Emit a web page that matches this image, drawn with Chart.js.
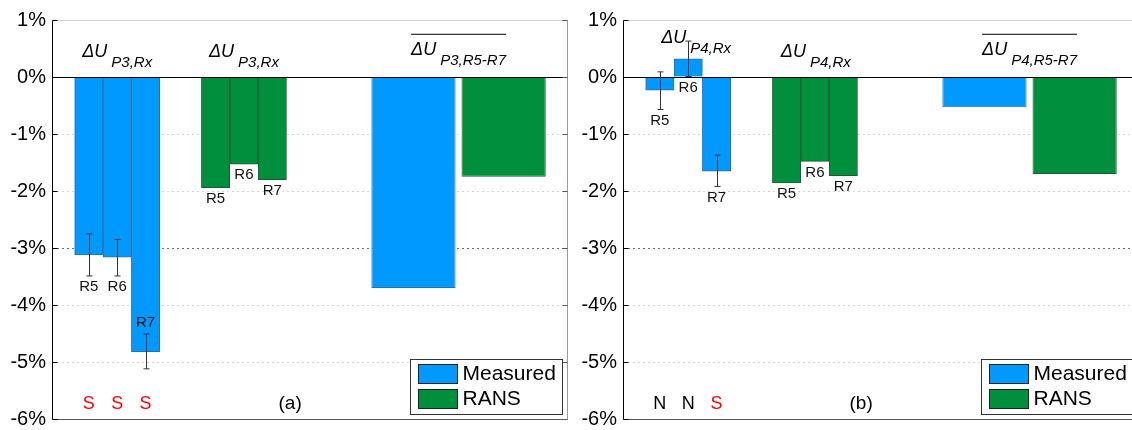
<!DOCTYPE html>
<html>
<head>
<meta charset="utf-8">
<script src="https://cdn.jsdelivr.net/npm/chart.js@4.4.0/dist/chart.umd.min.js"></script>
<style>
  html, body { margin: 0; padding: 0; background: #fff; overflow: hidden; }
  #wrap { position: relative; width: 1132px; height: 430px; overflow: hidden; }
  .panel { position: absolute; top: 0; width: 570px; height: 430px; }
  #panelA { left: 0; }
  #panelB { left: 571px; }
</style>
</head>
<body>
<div id="wrap">
  <div class="panel" id="panelA"><canvas id="chartA" width="570" height="430"></canvas></div>
  <div class="panel" id="panelB"><canvas id="chartB" width="570" height="430"></canvas></div>
</div>
<script>
const runs = ['R5', 'R6', 'R7'];
const seriesNames = ['Measured', 'RANS'];
const yMin = -6, yMax = 1;

// slots on the hidden x axis, counted in bar widths
const runSlots = [1.3, 2.3, 3.3];
const ransSlots = [5.77, 6.77, 7.77];
const avgSlots = [12.75, 15.93];

// probe P3
const measuredP3 = [-3.12, -3.16, -4.82];
const measuredP3Lo = [-3.49, -3.49, -5.12];
const measuredP3Hi = [-2.75, -2.85, -4.51];
const ransP3 = [-1.94, -1.53, -1.80];
const avgP3 = [-3.70, -1.75];
const flowP3 = ['S', 'S', 'S'];

// probe P4
const measuredP4 = [-0.23, 0.32, -1.65];
const measuredP4Lo = [-0.57, 0.01, -1.92];
const measuredP4Hi = [0.09, 0.63, -1.37];
const ransP4 = [-1.86, -1.48, -1.73];
const avgP4 = [-0.53, -1.70];
const flowP4 = ['N', 'N', 'S'];

const BLUE = '#0099ff';
const BLUE_EDGE = '#2f6f9f';
const GREEN = '#008f3c';
const GREEN_EDGE = '#1f5a32';
const FONT = "'Liberation Sans', Arial, sans-serif";

Chart.defaults.font.family = FONT;
Chart.defaults.color = '#000';

function drawSymbol(ctx, cx, baseY, sub, overline) {
  ctx.font = 'italic 18px ' + FONT;
  const w1 = ctx.measureText('\u0394U').width;
  ctx.font = 'italic 15px ' + FONT;
  const w2 = ctx.measureText(sub).width;
  const gap = 4;
  const x0 = cx - (w1 + gap + w2) / 2;
  ctx.fillStyle = '#000';
  ctx.textAlign = 'left';
  ctx.textBaseline = 'alphabetic';
  ctx.font = 'italic 18px ' + FONT;
  ctx.fillText('\u0394U', x0, baseY);
  ctx.font = 'italic 15px ' + FONT;
  ctx.fillText(sub, x0 + w1 + gap, baseY + 10);
  if (overline) {
    ctx.strokeStyle = '#000';
    ctx.lineWidth = 1;
    ctx.beginPath();
    ctx.moveTo(x0, baseY - 20.5);
    ctx.lineTo(x0 + w1 + gap + w2, baseY - 20.5);
    ctx.stroke();
  }
}

function makeDecor(p) {
  return {
    id: 'panelDecor',
    afterDatasetsDraw(chart) {
      const ctx = chart.ctx;
      const a = chart.chartArea;
      const x = chart.scales.x;
      const y = chart.scales.y;
      ctx.save();

      // zero line
      ctx.strokeStyle = '#000';
      ctx.lineWidth = 1;
      const y0 = Math.round(y.getPixelForValue(0)) + 0.5;
      ctx.beginPath();
      ctx.moveTo(a.left, y0);
      ctx.lineTo(a.right, y0);
      ctx.stroke();

      // error bars on the measured runs
      ctx.strokeStyle = '#333';
      runSlots.forEach((s, i) => {
        const px = Math.round(x.getPixelForValue(s)) + 0.5;
        const lo = y.getPixelForValue(p.lo[i]);
        const hi = y.getPixelForValue(p.hi[i]);
        ctx.beginPath();
        ctx.moveTo(px, lo); ctx.lineTo(px, hi);
        ctx.moveTo(px - 3, lo); ctx.lineTo(px + 3, lo);
        ctx.moveTo(px - 3, hi); ctx.lineTo(px + 3, hi);
        ctx.stroke();
      });

      // run labels
      ctx.font = '15px ' + FONT;
      ctx.fillStyle = '#111';
      ctx.textAlign = 'center';
      ctx.textBaseline = 'middle';
      runSlots.forEach((s, i) => {
        const px = x.getPixelForValue(s);
        const anchor = Math.min(0, p.measured[i], p.lo[i]);
        const py = anchor < -5 ? y.getPixelForValue(p.hi[i]) - 11 : y.getPixelForValue(anchor) + 11;
        ctx.fillText(runs[i], px, py);
      });
      ransSlots.forEach((s, i) => {
        const anchor = Math.min(0, p.rans[i]);
        ctx.fillText(runs[i], x.getPixelForValue(s), y.getPixelForValue(anchor) + 11);
      });

      // flow state letters and panel tag
      ctx.font = '18px ' + FONT;
      const rowY = y.getPixelForValue(-5.74);
      runSlots.forEach((s, i) => {
        ctx.fillStyle = p.flow[i] === 'S' ? '#ff0000' : '#000';
        ctx.fillText(p.flow[i], x.getPixelForValue(s), rowY);
      });
      ctx.fillStyle = '#000';
      ctx.font = '19px ' + FONT;
      ctx.fillText(p.tag, x.getPixelForValue(8.4), rowY);

      // group titles
      p.titles.forEach(t => {
        drawSymbol(ctx, x.getPixelForValue(t.at), y.getPixelForValue(t.level), t.sub, t.overline);
      });

      // frame
      const top = a.top + 0.5, bottom = a.bottom + 0.5;
      const left = a.left + 0.5, right = a.right - 0.5;
      ctx.lineWidth = 1;
      ctx.strokeStyle = '#cfcfcf';
      ctx.beginPath(); ctx.moveTo(left, top); ctx.lineTo(right, top); ctx.stroke();
      ctx.strokeStyle = '#9a9a9a';
      ctx.beginPath(); ctx.moveTo(right, top); ctx.lineTo(right, bottom); ctx.stroke();
      ctx.strokeStyle = '#555';
      ctx.beginPath(); ctx.moveTo(left, bottom); ctx.lineTo(right, bottom); ctx.stroke();
      ctx.strokeStyle = '#000';
      ctx.beginPath(); ctx.moveTo(left, top); ctx.lineTo(left, bottom); ctx.stroke();

      // inward tick marks on both sides
      y.ticks.forEach(t => {
        const ty = Math.round(y.getPixelForValue(t.value)) + 0.5;
        ctx.strokeStyle = '#000';
        ctx.beginPath(); ctx.moveTo(left, ty); ctx.lineTo(left + 5, ty); ctx.stroke();
        ctx.strokeStyle = '#555';
        ctx.beginPath(); ctx.moveTo(right, ty); ctx.lineTo(right - 5, ty); ctx.stroke();
      });

      // legend box in the lower right corner
      const bw = 152, bh = 55;
      const bx = Math.round(a.right - 6 - bw) + 0.5;
      const by = Math.round(a.bottom - 5 - bh) + 0.5;
      ctx.fillStyle = '#fff';
      ctx.fillRect(bx, by, bw, bh);
      ctx.strokeStyle = '#333';
      ctx.strokeRect(bx, by, bw, bh);
      ctx.font = '21px ' + FONT;
      ctx.textAlign = 'left';
      ctx.textBaseline = 'middle';
      seriesNames.forEach((name, i) => {
        const ds = chart.data.datasets[i];
        const sy = by + 5 + i * 25;
        ctx.fillStyle = ds.backgroundColor;
        ctx.fillRect(bx + 8, sy, 39, 19);
        ctx.strokeStyle = '#222';
        ctx.strokeRect(bx + 8, sy, 39, 19);
        ctx.fillStyle = '#000';
        ctx.fillText(name, bx + 52, sy + 10);
      });

      ctx.restore();
    }
  };
}

function points(slots, values) {
  return slots.map((s, i) => ({ x: s, y: values[i] }));
}

function buildPanel(canvasId, p) {
  const barStyle = { borderWidth: 1, grouped: false, categoryPercentage: 1, barPercentage: 1 };
  return new Chart(document.getElementById(canvasId), {
    type: 'bar',
    data: {
      datasets: [
        Object.assign({ label: seriesNames[0], data: points(runSlots, p.measured), backgroundColor: BLUE, borderColor: BLUE_EDGE }, barStyle),
        Object.assign({ label: seriesNames[1], data: points(ransSlots, p.rans), backgroundColor: GREEN, borderColor: GREEN_EDGE }, barStyle),
        Object.assign({ label: seriesNames[0], data: [{ x: avgSlots[0], y: p.avg[0] }], backgroundColor: BLUE, borderColor: BLUE_EDGE }, barStyle, { barPercentage: 2.97 }),
        Object.assign({ label: seriesNames[1], data: [{ x: avgSlots[1], y: p.avg[1] }], backgroundColor: GREEN, borderColor: GREEN_EDGE }, barStyle, { barPercentage: 2.97 })
      ]
    },
    options: {
      responsive: false,
      animation: false,
      events: [],
      layout: { padding: { top: 20, bottom: 11, left: 0, right: 2 } },
      plugins: { legend: { display: false }, tooltip: { enabled: false } },
      scales: {
        x: {
          type: 'linear',
          display: false,
          offset: false,
          min: 0,
          max: 18.2,
          ticks: { stepSize: 1, includeBounds: false },
          grid: { offset: false }
        },
        y: {
          min: yMin,
          max: yMax,
          afterFit(scale) {
            scale.width = 52;
            scale.paddingTop = 0;
            scale.paddingBottom = 0;
          },
          ticks: {
            stepSize: 1,
            padding: 6,
            font: { size: 20, lineHeight: 1 },
            color: '#000',
            callback: v => v + '%'
          },
          grid: {
            drawTicks: false,
            color: c => {
              const v = c.tick ? c.tick.value : null;
              if (v === -3) return '#6f6f6f';
              if (v === 0 || v === yMin || v === yMax) return 'rgba(0,0,0,0)';
              return '#d6d6d6';
            }
          },
          border: { display: false, dash: [2, 3] }
        }
      }
    },
    plugins: [makeDecor(p)]
  });
}

buildPanel('chartA', {
  measured: measuredP3, lo: measuredP3Lo, hi: measuredP3Hi, rans: ransP3, avg: avgP3, flow: flowP3, tag: '(a)',
  titles: [
    { at: 2.3, level: 0.35, sub: 'P3,Rx' },
    { at: 6.77, level: 0.35, sub: 'P3,Rx' },
    { at: 14.34, level: 0.39, sub: 'P3,R5-R7', overline: true }
  ]
});

buildPanel('chartB', {
  measured: measuredP4, lo: measuredP4Lo, hi: measuredP4Hi, rans: ransP4, avg: avgP4, flow: flowP4, tag: '(b)',
  titles: [
    { at: 2.58, level: 0.6, sub: 'P4,Rx' },
    { at: 6.8, level: 0.35, sub: 'P4,Rx' },
    { at: 14.34, level: 0.39, sub: 'P4,R5-R7', overline: true }
  ]
});
</script>
</body>
</html>
